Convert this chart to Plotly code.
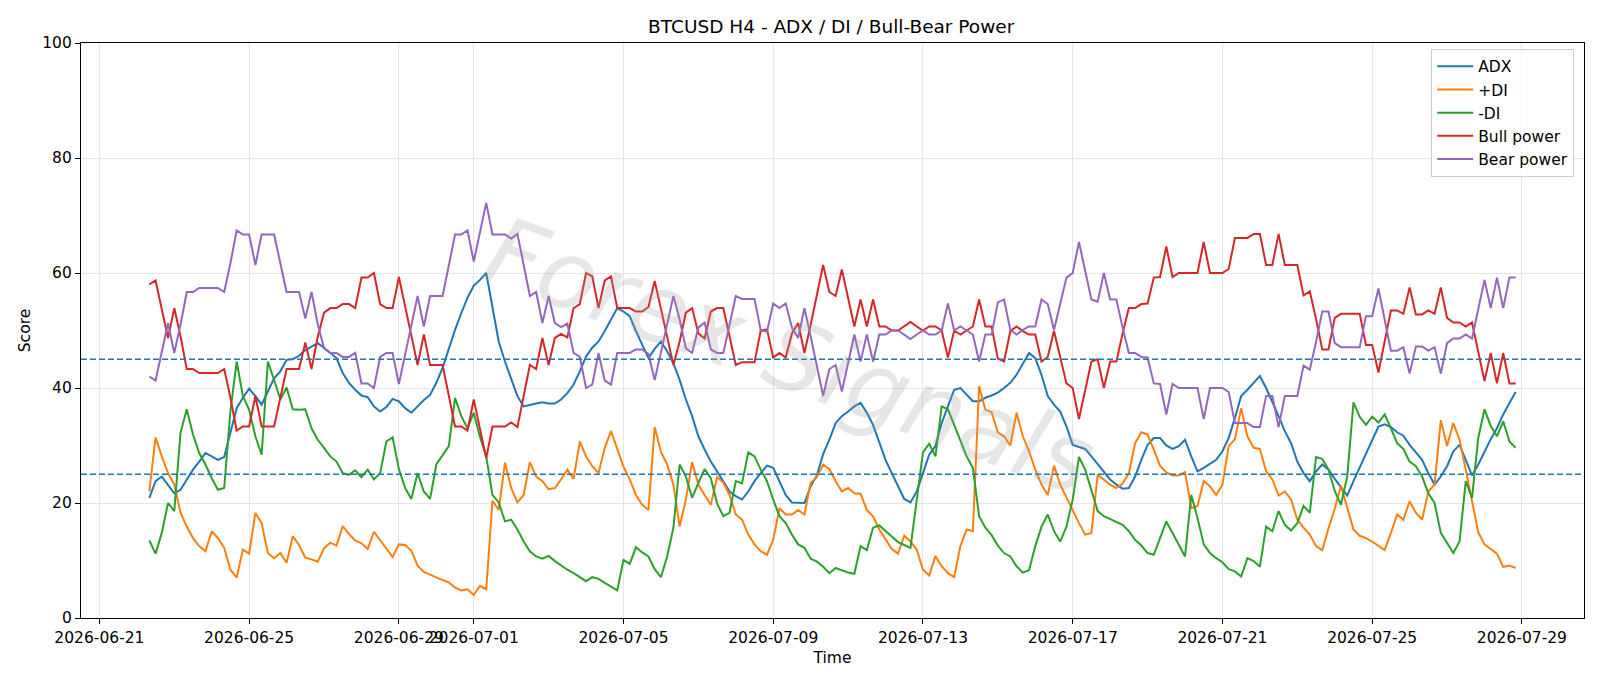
import pandas as pd
import plotly.graph_objects as go

# ---------------- data ----------------
times = pd.date_range("2026-06-22 08:00", periods=220, freq="4h")

adx = [20.9, 23.8, 24.6, 23.2, 21.7, 22.3, 24.1, 25.8, 27.2, 28.7,
       28.1, 27.5, 28.0, 32.5, 36.5, 38.3, 39.9, 38.6, 37.1, 39.4,
       41.7, 42.9, 44.9, 45.0, 45.6, 46.6, 47.2, 47.8, 47.0, 46.1,
       45.2, 42.6, 40.9, 39.7, 38.7, 38.4, 36.8, 35.9, 36.7, 38.1,
       37.7, 36.5, 35.7, 36.8, 37.9, 38.8, 40.9, 43.5, 47.0, 50.1,
       53.0, 55.7, 57.8, 58.8, 60.0, 54.2, 48.1, 44.6, 41.4, 38.6,
       36.8, 37.1, 37.3, 37.5, 37.3, 37.3, 38.0, 39.1, 40.6, 42.9,
       45.5, 47.0, 48.1, 49.9, 51.9, 53.9, 53.3, 52.5, 49.9, 47.5,
       45.2, 46.8, 48.1, 46.4, 44.3, 41.4, 38.0, 35.1, 31.6, 29.3,
       27.2, 25.5, 23.8, 22.0, 21.2, 20.6, 22.0, 23.8, 25.2, 26.5,
       26.1, 23.8, 21.4, 20.1, 20.0, 20.0, 22.9, 24.8, 28.5, 31.0,
       33.9, 35.1, 35.9, 36.8, 37.4, 35.7, 33.6, 30.7, 27.5, 25.2,
       22.9, 20.7, 20.1, 22.0, 25.2, 28.4, 29.9, 33.9, 36.8, 39.7,
       40.0, 38.8, 37.7, 37.7, 38.3, 38.7, 39.2, 40.0, 40.9, 42.3,
       44.3, 46.1, 45.2, 42.3, 38.6, 37.1, 35.9, 33.3, 30.1, 29.7,
       29.4, 28.1, 26.7, 25.5, 24.1, 23.2, 22.5, 22.6, 24.6, 27.5,
       30.1, 31.3, 31.3, 30.0, 29.4, 29.9, 31.0, 28.1, 25.5, 26.1,
       26.8, 27.5, 29.0, 31.3, 34.8, 38.6, 39.7, 40.9, 42.1, 40.0,
       37.7, 35.1, 32.5, 30.4, 27.2, 25.2, 23.8, 25.5, 26.7, 25.8,
       24.2, 22.8, 21.3, 23.8, 26.1, 28.6, 31.0, 33.3, 33.7, 33.2,
       32.3, 31.7, 30.1, 28.7, 27.5, 25.2, 23.2, 24.6, 26.4, 29.0,
       30.1, 27.5, 24.8, 26.7, 29.0, 31.1, 33.0, 35.4, 37.4, 39.3]

plus_di = [22.0, 31.4, 28.1, 25.2, 23.2, 18.3, 15.9, 13.9, 12.5, 11.6,
           15.1, 13.9, 12.2, 8.4, 7.0, 11.9, 11.2, 18.3, 16.5, 11.3,
           10.4, 11.3, 9.6, 14.2, 12.7, 10.5, 10.2, 9.8, 12.1, 13.1,
           12.6, 16.0, 14.6, 13.5, 13.0, 12.0, 15.0, 13.6, 12.2, 10.6,
           12.8, 12.7, 11.7, 9.1, 8.0, 7.5, 7.0, 6.6, 6.2, 5.3,
           4.8, 5.0, 4.0, 5.6, 5.0, 20.4, 18.8, 27.0, 22.6, 20.1,
           21.4, 27.1, 24.6, 23.8, 22.4, 22.6, 24.1, 25.8, 24.2, 30.7,
           28.1, 26.4, 25.2, 29.6, 32.5, 29.3, 26.3, 24.1, 21.4, 19.7,
           18.8, 33.2, 28.9, 26.7, 23.2, 15.9, 20.6, 27.1, 23.2, 21.4,
           19.7, 24.5, 23.5, 21.4, 18.0, 17.1, 14.5, 12.8, 11.6, 11.0,
           13.6, 19.1, 18.0, 18.0, 18.8, 18.0, 23.5, 24.5, 26.7, 25.9,
           23.8, 22.0, 22.6, 21.7, 21.6, 18.8, 17.7, 15.4, 13.6, 12.0,
           11.2, 14.3, 13.3, 11.9, 8.4, 7.4, 10.8, 9.0, 7.8, 7.1,
           12.5, 15.4, 15.1, 40.3, 36.2, 35.8, 32.3, 31.6, 30.0, 35.7,
           31.6, 29.0, 25.8, 23.2, 21.4, 26.5, 23.2, 20.9, 18.6, 16.5,
           14.5, 14.8, 24.9, 24.1, 23.2, 22.6, 23.4, 25.2, 30.4, 32.3,
           31.9, 29.3, 26.5, 25.3, 24.8, 24.8, 25.4, 19.1, 19.5, 23.8,
           22.9, 21.4, 23.2, 29.9, 31.1, 36.5, 31.6, 29.6, 29.4, 25.5,
           24.1, 21.3, 22.0, 20.6, 17.1, 15.7, 14.5, 12.5, 11.8, 15.6,
           19.0, 23.0, 19.1, 15.4, 14.3, 13.9, 13.3, 12.6, 11.8, 14.8,
           18.0, 17.1, 20.3, 18.3, 17.1, 22.0, 23.2, 34.4, 29.9, 33.9,
           31.0, 25.8, 20.6, 14.9, 12.8, 12.0, 11.2, 8.9, 9.1, 8.7]

minus_di = [13.5, 11.2, 14.8, 20.0, 18.6, 32.2, 36.3, 31.9, 28.7, 26.7,
            24.3, 22.3, 22.6, 36.0, 44.6, 38.6, 36.2, 31.6, 28.4, 44.6,
            41.4, 38.0, 40.1, 36.3, 36.2, 36.3, 33.0, 31.0, 29.6, 28.1,
            27.2, 25.2, 24.9, 25.7, 24.5, 25.8, 24.1, 25.2, 30.7, 31.4,
            25.9, 22.6, 20.7, 25.2, 22.0, 20.7, 26.7, 28.4, 29.9, 38.3,
            35.1, 33.0, 35.7, 31.5, 28.1, 21.4, 20.1, 16.8, 17.1, 15.4,
            13.3, 11.6, 10.7, 10.3, 10.8, 9.9, 9.1, 8.4, 7.8, 7.1,
            6.4, 7.1, 6.8, 6.1, 5.4, 4.8, 10.1, 9.4, 12.3, 11.4,
            10.7, 8.5, 7.1, 10.7, 15.7, 26.7, 24.6, 20.9, 23.5, 25.9,
            24.3, 19.9, 17.7, 18.3, 23.8, 23.4, 28.8, 28.1, 25.8, 23.8,
            20.6, 17.7, 16.5, 14.5, 12.8, 12.2, 10.3, 9.8, 8.9, 7.8,
            8.7, 8.3, 7.9, 7.7, 12.5, 11.8, 15.7, 16.1, 15.1, 14.1,
            13.2, 12.7, 12.2, 20.5, 28.8, 30.3, 28.1, 36.8, 36.3, 33.6,
            30.7, 28.1, 26.1, 17.7, 15.7, 14.4, 12.6, 11.3, 10.7, 9.0,
            7.9, 8.3, 12.5, 15.9, 18.0, 15.1, 13.3, 15.9, 20.6, 28.0,
            25.8, 22.0, 18.6, 17.7, 17.2, 16.8, 16.2, 15.1, 13.6, 12.6,
            11.3, 11.0, 13.8, 16.8, 14.8, 12.8, 10.7, 21.4, 17.4, 12.8,
            11.3, 10.4, 9.7, 8.5, 8.1, 7.2, 10.4, 9.9, 8.9, 15.9,
            15.1, 18.6, 16.2, 15.2, 16.5, 19.5, 18.3, 28.0, 27.7, 25.8,
            22.1, 19.7, 24.6, 37.5, 35.0, 33.6, 35.0, 34.0, 35.4, 33.0,
            30.4, 29.4, 27.2, 26.4, 24.6, 21.7, 20.0, 14.8, 13.0, 11.3,
            13.3, 23.8, 20.9, 31.3, 36.3, 33.4, 31.6, 34.2, 30.7, 29.6]

bull_power = [58.0, 58.7, 53.7, 48.7, 53.9, 49.0, 43.3, 43.3, 42.6, 42.6,
              42.6, 42.6, 43.3, 38.3, 32.6, 33.3, 33.3, 38.6, 33.3, 33.3,
              33.3, 38.3, 43.3, 43.3, 43.3, 47.9, 43.3, 48.9, 53.1, 53.9,
              53.9, 54.6, 54.6, 53.9, 59.2, 59.2, 60.0, 54.6, 53.9, 53.9,
              59.3, 54.2, 49.1, 44.0, 49.3, 44.0, 44.0, 44.0, 38.7, 33.3,
              33.3, 32.6, 38.0, 32.9, 27.8, 33.3, 33.3, 33.3, 34.0, 33.2,
              38.6, 44.0, 43.3, 48.7, 44.0, 48.7, 49.4, 48.8, 53.9, 54.6,
              60.0, 59.4, 53.9, 58.7, 59.4, 53.9, 53.9, 53.9, 53.3, 53.3,
              54.1, 58.6, 53.8, 48.7, 44.0, 48.1, 53.1, 53.9, 49.5, 48.6,
              53.3, 53.9, 53.9, 49.0, 44.0, 44.5, 44.5, 44.5, 50.0, 50.2,
              45.3, 46.1, 45.3, 49.5, 51.3, 46.1, 51.0, 56.5, 61.4, 56.7,
              56.0, 60.6, 55.5, 50.7, 55.4, 50.7, 55.4, 50.7, 50.7, 50.0,
              50.0, 50.7, 51.5, 50.7, 50.0, 50.7, 50.7, 50.0, 45.3, 50.0,
              49.3, 50.0, 50.7, 55.4, 50.7, 50.7, 45.1, 44.6, 49.9, 50.7,
              49.9, 49.3, 49.3, 44.6, 45.4, 49.9, 45.3, 40.8, 40.0, 34.6,
              39.6, 44.6, 45.0, 40.0, 44.6, 44.6, 49.5, 53.9, 53.9, 54.6,
              54.7, 59.2, 59.3, 64.6, 59.3, 60.0, 60.0, 60.0, 60.0, 65.4,
              60.0, 60.0, 60.0, 60.7, 66.1, 66.1, 66.1, 66.8, 66.8, 61.4,
              61.4, 66.8, 61.4, 61.4, 61.4, 56.1, 56.8, 52.0, 46.7, 46.7,
              52.2, 52.9, 52.9, 52.9, 52.9, 47.5, 47.5, 42.7, 48.1, 53.5,
              53.5, 52.9, 57.5, 52.8, 52.8, 53.5, 52.9, 57.5, 52.2, 51.4,
              51.4, 50.7, 51.4, 46.3, 41.2, 46.1, 40.8, 46.1, 40.8, 40.8]

bear_power = [42.0, 41.3, 46.3, 51.3, 46.1, 51.0, 56.7, 56.7, 57.4, 57.4,
              57.4, 57.4, 56.7, 61.7, 67.4, 66.7, 66.7, 61.4, 66.7, 66.7,
              66.7, 61.7, 56.7, 56.7, 56.7, 52.1, 56.7, 51.1, 46.9, 46.1,
              46.1, 45.4, 45.4, 46.1, 40.8, 40.8, 40.0, 45.4, 46.1, 46.1,
              40.7, 45.8, 50.9, 56.0, 50.7, 56.0, 56.0, 56.0, 61.3, 66.7,
              66.7, 67.4, 62.0, 67.1, 72.2, 66.7, 66.7, 66.7, 66.0, 66.8,
              61.4, 56.0, 56.7, 51.3, 56.0, 51.3, 50.6, 51.2, 46.1, 45.4,
              40.0, 40.6, 46.1, 41.3, 40.6, 46.1, 46.1, 46.1, 46.7, 46.7,
              45.9, 41.4, 46.2, 51.3, 56.0, 51.9, 46.9, 46.1, 50.5, 51.4,
              46.7, 46.1, 46.1, 51.0, 56.0, 55.5, 55.5, 55.5, 50.0, 49.8,
              54.7, 53.9, 54.7, 50.5, 48.7, 53.9, 49.0, 43.5, 38.6, 43.3,
              44.0, 39.4, 44.5, 49.3, 44.6, 49.3, 44.6, 49.3, 49.3, 50.0,
              50.0, 49.3, 48.5, 49.3, 50.0, 49.3, 49.3, 50.0, 54.7, 50.0,
              50.7, 50.0, 49.3, 44.6, 49.3, 49.3, 54.9, 55.4, 50.1, 49.3,
              50.1, 50.7, 50.7, 55.4, 54.6, 50.1, 54.7, 59.2, 60.0, 65.4,
              60.4, 55.4, 55.0, 60.0, 55.4, 55.4, 50.5, 46.1, 46.1, 45.4,
              45.3, 40.8, 40.7, 35.4, 40.7, 40.0, 40.0, 40.0, 40.0, 34.6,
              40.0, 40.0, 40.0, 39.3, 33.9, 33.9, 33.9, 33.2, 33.2, 38.6,
              38.6, 33.2, 38.6, 38.6, 38.6, 43.9, 43.2, 48.0, 53.3, 53.3,
              47.8, 47.1, 47.1, 47.1, 47.1, 52.5, 52.5, 57.3, 51.9, 46.5,
              46.5, 47.1, 42.5, 47.2, 47.2, 46.5, 47.1, 42.5, 47.8, 48.6,
              48.6, 49.3, 48.6, 53.7, 58.8, 53.9, 59.2, 53.9, 59.2, 59.2]

threshold_levels = [45, 25]
tick_dates = ["2026-06-21", "2026-06-25", "2026-06-29", "2026-07-01", "2026-07-05",
              "2026-07-09", "2026-07-13", "2026-07-17", "2026-07-21", "2026-07-25",
              "2026-07-29"]
y_ticks = [0, 20, 40, 60, 80, 100]

# ---------------- figure ----------------
FONT = "DejaVu Sans"
series = [
    ("ADX", adx, "#1f77b4"),
    ("+DI", plus_di, "#ff7f0e"),
    ("-DI", minus_di, "#2ca02c"),
    ("Bull power", bull_power, "#d62728"),
    ("Bear power", bear_power, "#9467bd"),
]

fig = go.Figure()
for name, vals, color in series:
    fig.add_trace(go.Scatter(x=times, y=vals, mode="lines", name=name,
                             line=dict(color=color, width=2)))

for lvl in threshold_levels:
    fig.add_shape(type="line", xref="paper", x0=0, x1=1, yref="y", y0=lvl, y1=lvl,
                  line=dict(color="#1f77b4", width=1.3, dash="6px,3px"), layer="above")

span = times[-1] - times[0]
x_range = [times[0] - 0.05 * span, times[-1] + 0.05 * span]

fig.add_annotation(text="Forex Signals", xref="paper", yref="paper", x=0.472, y=0.455,
                   showarrow=False, textangle=20,
                   font=dict(family=FONT, size=95, color="rgba(160,160,160,0.26)",
                             style="italic", weight=200))

fig.update_layout(
    width=1600, height=686,
    margin=dict(l=81, r=16, t=43, b=68),
    paper_bgcolor="white", plot_bgcolor="white",
    font=dict(family=FONT, size=15.5, color="black"),
    title=dict(text="BTCUSD H4 - ADX / DI / Bull-Bear Power", x=0.5195, xanchor="center",
               y=0.962, yanchor="middle", font=dict(family=FONT, size=18.5, color="black")),
    showlegend=True,
    legend=dict(x=0.9935, xanchor="right", y=0.99, yanchor="top",
                bgcolor="rgba(255,255,255,0.8)", bordercolor="#cccccc", borderwidth=1,
                font=dict(family=FONT, size=15.5, color="black"),
                itemwidth=36, tracegroupgap=0),
)

fig.update_xaxes(
    type="date", range=x_range,
    tickmode="array", tickvals=pd.to_datetime(tick_dates), ticktext=tick_dates,
    tickangle=0, ticks="outside", ticklen=5, tickwidth=1.2, tickcolor="black",
    showline=True, linecolor="black", linewidth=1.2, mirror=True,
    showgrid=True, gridcolor="#e6e6e6", gridwidth=1.1, zeroline=False,
    title=dict(text="Time", standoff=6, font=dict(family=FONT, size=15.5)),
    tickfont=dict(family=FONT, size=15.5),
)
fig.update_yaxes(
    range=[0, 100], tickmode="array", tickvals=y_ticks,
    ticks="outside", ticklen=5, tickwidth=1.2, tickcolor="black",
    showline=True, linecolor="black", linewidth=1.2, mirror=True,
    showgrid=True, gridcolor="#e6e6e6", gridwidth=1.1, zeroline=False,
    title=dict(text="Score", standoff=7, font=dict(family=FONT, size=15.5)),
    tickfont=dict(family=FONT, size=15.5),
)

fig.write_html("out.html")
